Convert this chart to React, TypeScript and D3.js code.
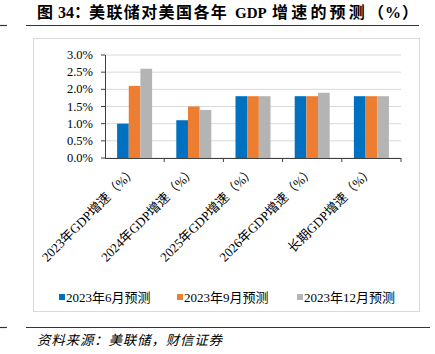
import React from "react";
import * as d3 from "d3";

const categories = ["2023年GDP增速（%）", "2024年GDP增速（%）", "2025年GDP增速（%）", "2026年GDP增速（%）", "长期GDP增速（%）"];
const seriesNames = ["2023年6月预测", "2023年9月预测", "2023年12月预测"];
const juneValues = [1.0, 1.1, 1.8, 1.8, 1.8];
const septValues = [2.1, 1.5, 1.8, 1.8, 1.8];
const decValues = [2.6, 1.4, 1.8, 1.9, 1.8];
const yTicks = [0, 0.5, 1.0, 1.5, 2.0, 2.5, 3.0];
const colors = ["#0070C0", "#ED7D31", "#B4B4B4"];

const serif = "'Liberation Serif', 'Times New Roman', 'Noto Sans CJK SC', serif";

export default function App() {
  const W = 435, H = 354;
  const left = 105, right = 401, top = 55, bottom = 158;
  const x = d3.scaleBand<string>().domain(categories).range([left, right]).paddingInner(0).paddingOuter(0);
  const xs = d3.scaleBand<number>().domain([0, 1, 2]).range([0, 35]);
  const y = d3.scaleLinear().domain([0, 3]).range([bottom, top]);
  const series = [juneValues, septValues, decValues];
  const bw = x.bandwidth();

  return (
    <svg width={W} height={H} style={{ position: "absolute", left: 0, top: 0, background: "#fff" }}>
      <rect x={0} y={0} width={W} height={H} fill="#fff" />
      {/* title */}
      <text y={18} fontFamily={serif} fontWeight="bold" fontSize={16} fill="#000">
        <tspan x={37}>图</tspan>
        <tspan x={58}>34：</tspan>
        <tspan x={89} letterSpacing={1.4}>美联储对美国各年</tspan>
        <tspan x={235} fontSize={15}>GDP</tspan>
        <tspan x={272} letterSpacing={3.2}>增速的预测</tspan>
        <tspan x={368} letterSpacing={1}>（%）</tspan>
      </text>
      <line x1={0} x2={7} y1={25.5} y2={25.5} stroke="#333" strokeWidth={1.2} />
      <line x1={26} x2={419} y1={25.5} y2={25.5} stroke="#333" strokeWidth={1.2} />
      {/* chart box */}
      <rect x={33.5} y={38.5} width={386} height={273} fill="#fff" stroke="#D9D9D9" strokeWidth={1} />
      {/* gridlines */}
      {yTicks.map((t) => (
        <line key={"g" + t} x1={left} x2={right} y1={y(t)} y2={y(t)} stroke="#D9D9D9" strokeWidth={1} />
      ))}
      {/* bars */}
      {series.map((vals, si) =>
        vals.map((v, ci) => {
          const bx = (x(categories[ci]) as number) + (bw - 35) / 2 + (xs(si) as number);
          return (
            <rect key={si + "-" + ci} x={bx} y={y(v)} width={xs.bandwidth()} height={y(0) - y(v)} fill={colors[si]} />
          );
        })
      )}
      {/* y axis */}
      <line x1={left + 0.5} x2={left + 0.5} y1={top} y2={bottom} stroke="#404040" strokeWidth={1} />
      {yTicks.map((t) => (
        <g key={"y" + t}>
          <line x1={left - 4} x2={left} y1={y(t)} y2={y(t)} stroke="#404040" strokeWidth={1} />
          <text x={93} y={y(t) + 4} textAnchor="end" fontFamily={serif} fontSize={12.5} fill="#000">
            {t.toFixed(1) + "%"}
          </text>
        </g>
      ))}
      {/* x axis */}
      <line x1={left} x2={right} y1={bottom + 0.5} y2={bottom + 0.5} stroke="#404040" strokeWidth={1} />
      {categories.map((c, i) => {
        const tx = (x(c) as number) + bw;
        return <line key={"xt" + i} x1={tx} x2={tx} y1={bottom} y2={bottom + 4} stroke="#404040" strokeWidth={1} />;
      })}
      {categories.map((c, i) => {
        const cx = (x(c) as number) + bw / 2 + 3;
        return (
          <text
            key={"xl" + i}
            transform={`translate(${cx},${bottom + 14}) rotate(-45)`}
            textAnchor="end"
            fontFamily={serif}
            fontSize={13}
            fill="#000"
          >
            {c}
          </text>
        );
      })}
      {/* legend */}
      {seriesNames.map((n, i) => {
        const lx = [59, 177, 297][i];
        return (
          <g key={"lg" + i}>
            <rect x={lx} y={294} width={6} height={6} fill={colors[i]} />
            <text x={lx + 7} y={302} fontFamily={serif} fontSize={13} fill="#000">
              {n}
            </text>
          </g>
        );
      })}
      {/* footer */}
      <line x1={0} x2={7} y1={327.5} y2={327.5} stroke="#333" strokeWidth={1.2} />
      <line x1={26} x2={430} y1={327.5} y2={327.5} stroke="#333" strokeWidth={1.2} />
      <text x={37} y={345} fontFamily={serif} fontStyle="italic" fontSize={13.5} letterSpacing={0.8} fill="#000">
        资料来源：美联储，财信证券
      </text>
    </svg>
  );
}
